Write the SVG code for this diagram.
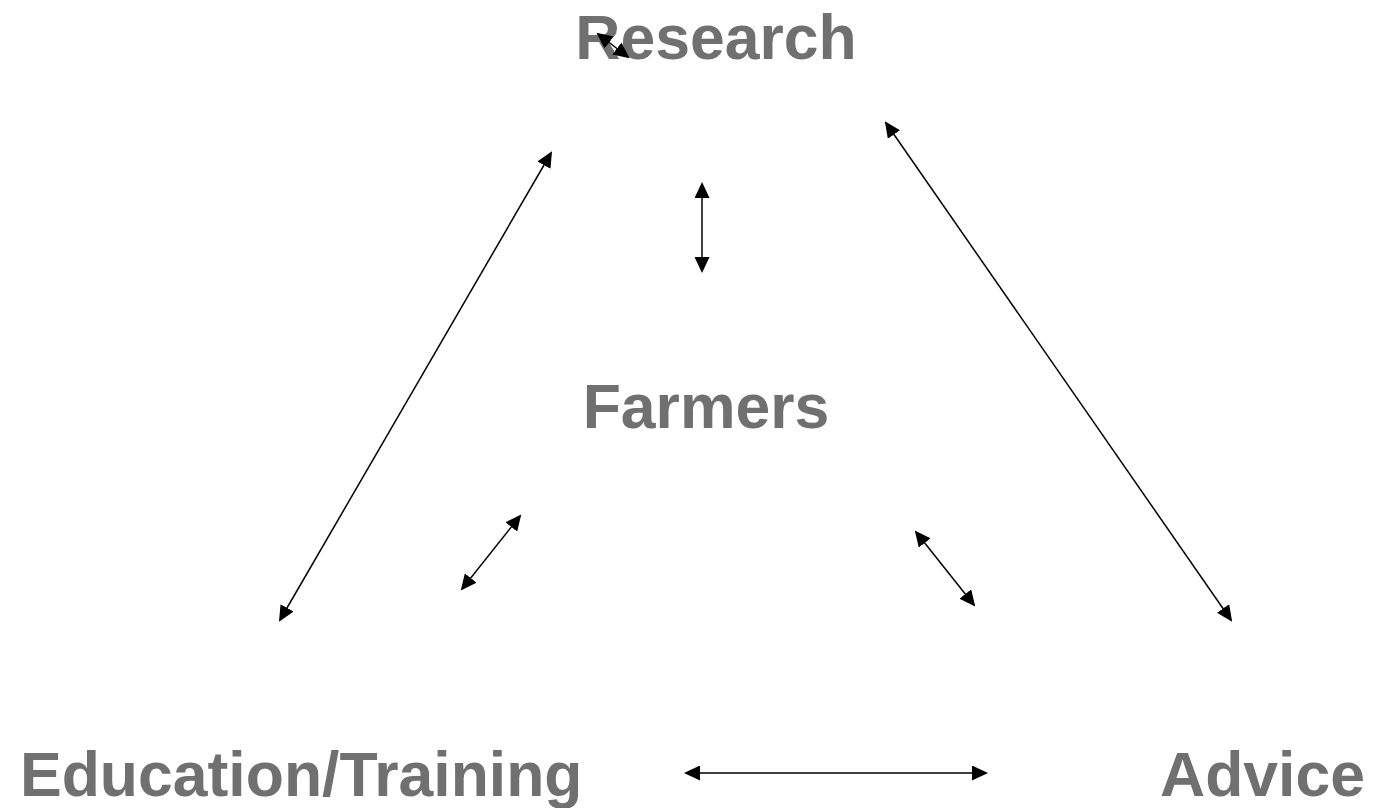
<svg xmlns="http://www.w3.org/2000/svg" width="1373" height="808" viewBox="0 0 1373 808">
<defs>
<marker id="ah" markerUnits="userSpaceOnUse" markerWidth="16" markerHeight="15" refX="14" refY="7.5" orient="auto-start-reverse" viewBox="0 0 16 15">
<path d="M0,0 L16,7.5 L0,15 z" fill="#000"/>
</marker>
<style>
.lbl{font-family:"Liberation Sans",Arial,sans-serif;font-weight:bold;font-size:62.5px;fill:#707070}
.con line{stroke:#000;stroke-width:1.5;marker-start:url(#ah);marker-end:url(#ah)}
</style>
</defs>
<rect width="1373" height="808" fill="#fff"/>
<g id="research"><text class="lbl" x="716" y="59" text-anchor="middle">Research</text></g>
<g id="farmers"><text class="lbl" x="706" y="428" text-anchor="middle">Farmers</text></g>
<g id="education"><text class="lbl" x="20" y="796">Education/Training</text></g>
<g id="advice"><text class="lbl" x="1160" y="796">Advice</text></g>
<g id="connectors" class="con">
<line x1="598" y1="34" x2="628" y2="57"/>
<line x1="551" y1="153" x2="280" y2="620"/>
<line x1="702" y1="184" x2="702" y2="271"/>
<line x1="886" y1="123" x2="1231" y2="620"/>
<line x1="520" y1="516" x2="462" y2="589"/>
<line x1="916" y1="532" x2="974" y2="605"/>
<line x1="686" y1="773" x2="986" y2="773"/>
</g>
</svg>
